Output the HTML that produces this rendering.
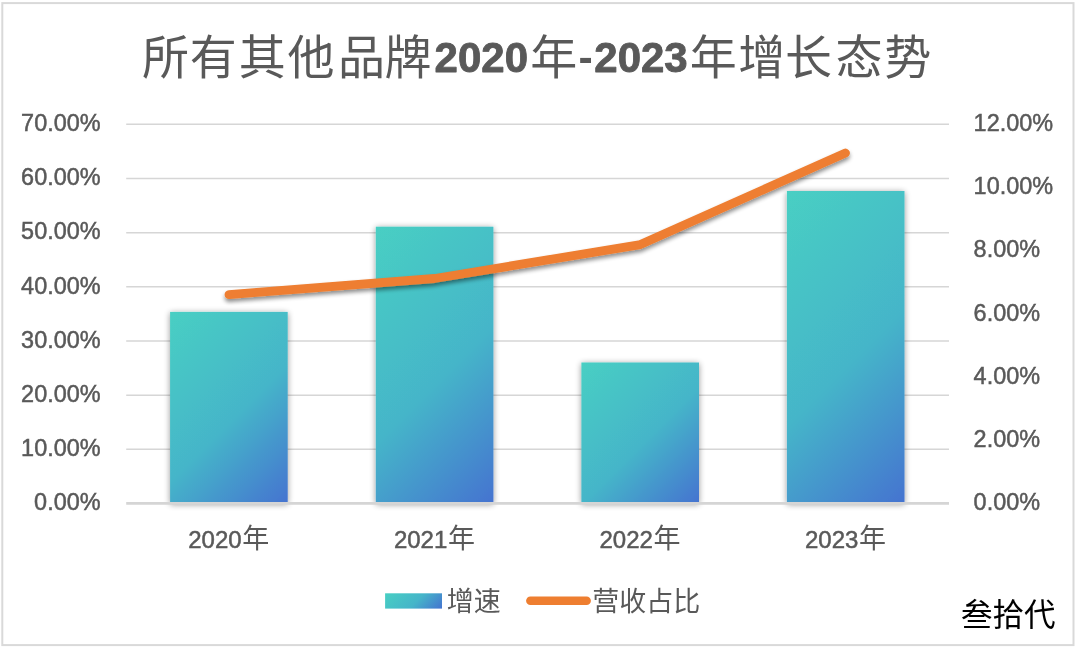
<!DOCTYPE html>
<html lang="zh-CN">
<head>
<meta charset="utf-8">
<title>所有其他品牌2020年-2023年增长态势</title>
<style>
html,body{margin:0;padding:0;background:#ffffff;}
body{width:1080px;height:651px;overflow:hidden;font-family:"Liberation Sans",sans-serif;}
svg{display:block;will-change:transform;}
text{font-family:"Liberation Sans","Noto Sans CJK SC",sans-serif;}
</style>
</head>
<body>
<svg width="1080" height="651" viewBox="0 0 1080 651">
<defs>
<linearGradient id="g0" gradientUnits="userSpaceOnUse" x1="170.1" y1="311.9" x2="324.6" y2="466.4"><stop offset="0" stop-color="#48cfc3"/><stop offset="0.55" stop-color="#45b5c9"/><stop offset="1" stop-color="#4473d0"/></linearGradient>
<linearGradient id="g1" gradientUnits="userSpaceOnUse" x1="375.8" y1="226.7" x2="572.9" y2="423.8"><stop offset="0" stop-color="#48cfc3"/><stop offset="0.55" stop-color="#45b5c9"/><stop offset="1" stop-color="#4473d0"/></linearGradient>
<linearGradient id="g2" gradientUnits="userSpaceOnUse" x1="581.4" y1="362.5" x2="710.6" y2="491.7"><stop offset="0" stop-color="#48cfc3"/><stop offset="0.55" stop-color="#45b5c9"/><stop offset="1" stop-color="#4473d0"/></linearGradient>
<linearGradient id="g3" gradientUnits="userSpaceOnUse" x1="786.9" y1="191.0" x2="1001.9" y2="405.9"><stop offset="0" stop-color="#48cfc3"/><stop offset="0.55" stop-color="#45b5c9"/><stop offset="1" stop-color="#4473d0"/></linearGradient>
<linearGradient id="g9" gradientUnits="userSpaceOnUse" x1="385.1" y1="593.3" x2="421.2" y2="629.4"><stop offset="0" stop-color="#48cfc3"/><stop offset="0.55" stop-color="#45b5c9"/><stop offset="1" stop-color="#4473d0"/></linearGradient>
<filter id="barShadow" x="-20%" y="-20%" width="140%" height="140%">
<feGaussianBlur in="SourceAlpha" stdDeviation="3"/>
<feOffset dx="0" dy="1" result="b"/>
<feComponentTransfer><feFuncA type="linear" slope="0.42"/></feComponentTransfer>
<feMerge><feMergeNode/><feMergeNode in="SourceGraphic"/></feMerge>
</filter>
<filter id="lineShadow" x="-5%" y="-20%" width="110%" height="140%" filterUnits="objectBoundingBox">
<feGaussianBlur in="SourceAlpha" stdDeviation="2.2"/>
<feOffset dx="0" dy="3" result="b"/>
<feComponentTransfer><feFuncA type="linear" slope="0.45"/></feComponentTransfer>
<feMerge><feMergeNode/><feMergeNode in="SourceGraphic"/></feMerge>
</filter>
</defs>
<rect x="0" y="0" width="1080" height="651" fill="#ffffff"/>
<rect x="2.3" y="3.1" width="1071.2" height="642" fill="none" stroke="#d9d9d9" stroke-width="2"/>
<g stroke="#d6d6d6" stroke-width="1.5" fill="none"><line x1="126.2" y1="449.33" x2="949.0" y2="449.33"/><line x1="126.2" y1="395.16" x2="949.0" y2="395.16"/><line x1="126.2" y1="340.99" x2="949.0" y2="340.99"/><line x1="126.2" y1="286.82" x2="949.0" y2="286.82"/><line x1="126.2" y1="232.65" x2="949.0" y2="232.65"/><line x1="126.2" y1="178.48" x2="949.0" y2="178.48"/><line x1="126.2" y1="124.31" x2="949.0" y2="124.31"/></g>
<g filter="url(#barShadow)"><rect x="170.1" y="311.9" width="117.6" height="191.4" fill="url(#g0)"/><rect x="375.8" y="226.7" width="117.6" height="276.6" fill="url(#g1)"/><rect x="581.4" y="362.5" width="117.6" height="140.8" fill="url(#g2)"/><rect x="786.9" y="191.0" width="117.6" height="312.3" fill="url(#g3)"/></g>
<line x1="126.2" y1="503.30" x2="949.0" y2="503.30" stroke="#d5d5d5" stroke-width="2.8"/>
<polyline points="229.0,294.6 434.6,278.5 640.4,244.6 845.5,153.0" fill="none" stroke="#ee7e30" stroke-width="8.8" stroke-linecap="round" stroke-linejoin="round" filter="url(#lineShadow)"/>
<g fill="#595959" stroke="#595959" stroke-width="0.5" font-size="24" text-anchor="end"><text transform="translate(100.6 510.20) scale(0.977 1)">0.00%</text><text transform="translate(100.6 456.03) scale(0.977 1)">10.00%</text><text transform="translate(100.6 401.86) scale(0.977 1)">20.00%</text><text transform="translate(100.6 347.69) scale(0.977 1)">30.00%</text><text transform="translate(100.6 293.52) scale(0.977 1)">40.00%</text><text transform="translate(100.6 239.35) scale(0.977 1)">50.00%</text><text transform="translate(100.6 185.18) scale(0.977 1)">60.00%</text><text transform="translate(100.6 131.01) scale(0.977 1)">70.00%</text></g>
<g fill="#595959" stroke="#595959" stroke-width="0.5" font-size="24" text-anchor="start"><text transform="translate(973.6 510.20) scale(0.977 1)">0.00%</text><text transform="translate(973.6 447.00) scale(0.977 1)">2.00%</text><text transform="translate(973.6 383.80) scale(0.977 1)">4.00%</text><text transform="translate(973.6 320.60) scale(0.977 1)">6.00%</text><text transform="translate(973.6 257.41) scale(0.977 1)">8.00%</text><text transform="translate(973.6 194.21) scale(0.977 1)">10.00%</text><text transform="translate(973.6 131.01) scale(0.977 1)">12.00%</text></g>
<text transform="translate(188.20 547.6) scale(1.000 1)" font-size="24" fill="#595959" stroke="#595959" stroke-width="0.5" text-anchor="start">2020</text><text x="242.3" y="548.1" font-size="27" fill="#595959">年</text>
<text transform="translate(393.90 547.6) scale(1.000 1)" font-size="24" fill="#595959" stroke="#595959" stroke-width="0.5" text-anchor="start">2021</text><text x="448.0" y="548.1" font-size="27" fill="#595959">年</text>
<text transform="translate(599.50 547.6) scale(1.000 1)" font-size="24" fill="#595959" stroke="#595959" stroke-width="0.5" text-anchor="start">2022</text><text x="653.6" y="548.1" font-size="27" fill="#595959">年</text>
<text transform="translate(805.00 547.6) scale(1.000 1)" font-size="24" fill="#595959" stroke="#595959" stroke-width="0.5" text-anchor="start">2023</text><text x="859.1" y="548.1" font-size="27" fill="#595959">年</text>
<rect x="385.1" y="593.3" width="56.9" height="15.3" fill="url(#g9)"/>
<text x="446.8" y="610.6" font-size="27" fill="#595959">增速</text>
<line x1="530.4" y1="600.7" x2="586.6" y2="600.7" stroke="#ee7e30" stroke-width="8.6" stroke-linecap="round"/>
<text x="592.2" y="610.6" font-size="27" fill="#595959">营收占比</text>
<text x="961.1" y="625.9" font-size="31.5" fill="#000000">叁拾代</text>
<text x="141.9 189.8 238.7 287.6 337.9 384.5" y="73.5" font-size="47" fill="#595959">所有其他品牌</text>
<text x="434.6" y="72.3" font-size="42.8" font-weight="bold" textLength="93.4" lengthAdjust="spacingAndGlyphs" fill="#595959" stroke="#595959" stroke-width="0.9" stroke-linejoin="round">2020</text>
<text x="530.3" y="74" font-size="47" fill="#595959">年</text>
<text x="578.5" y="72.3" font-size="42.8" font-weight="bold" fill="#595959">-</text>
<text x="594.3" y="72.3" font-size="42.8" font-weight="bold" textLength="93.4" lengthAdjust="spacingAndGlyphs" fill="#595959" stroke="#595959" stroke-width="0.9" stroke-linejoin="round">2023</text>
<text x="689.8" y="74" font-size="47" fill="#595959">年</text>
<text x="738.3 784.9 835.6 884.3" y="73.5" font-size="47" fill="#595959">增长态势</text>
</svg>
</body>
</html>
